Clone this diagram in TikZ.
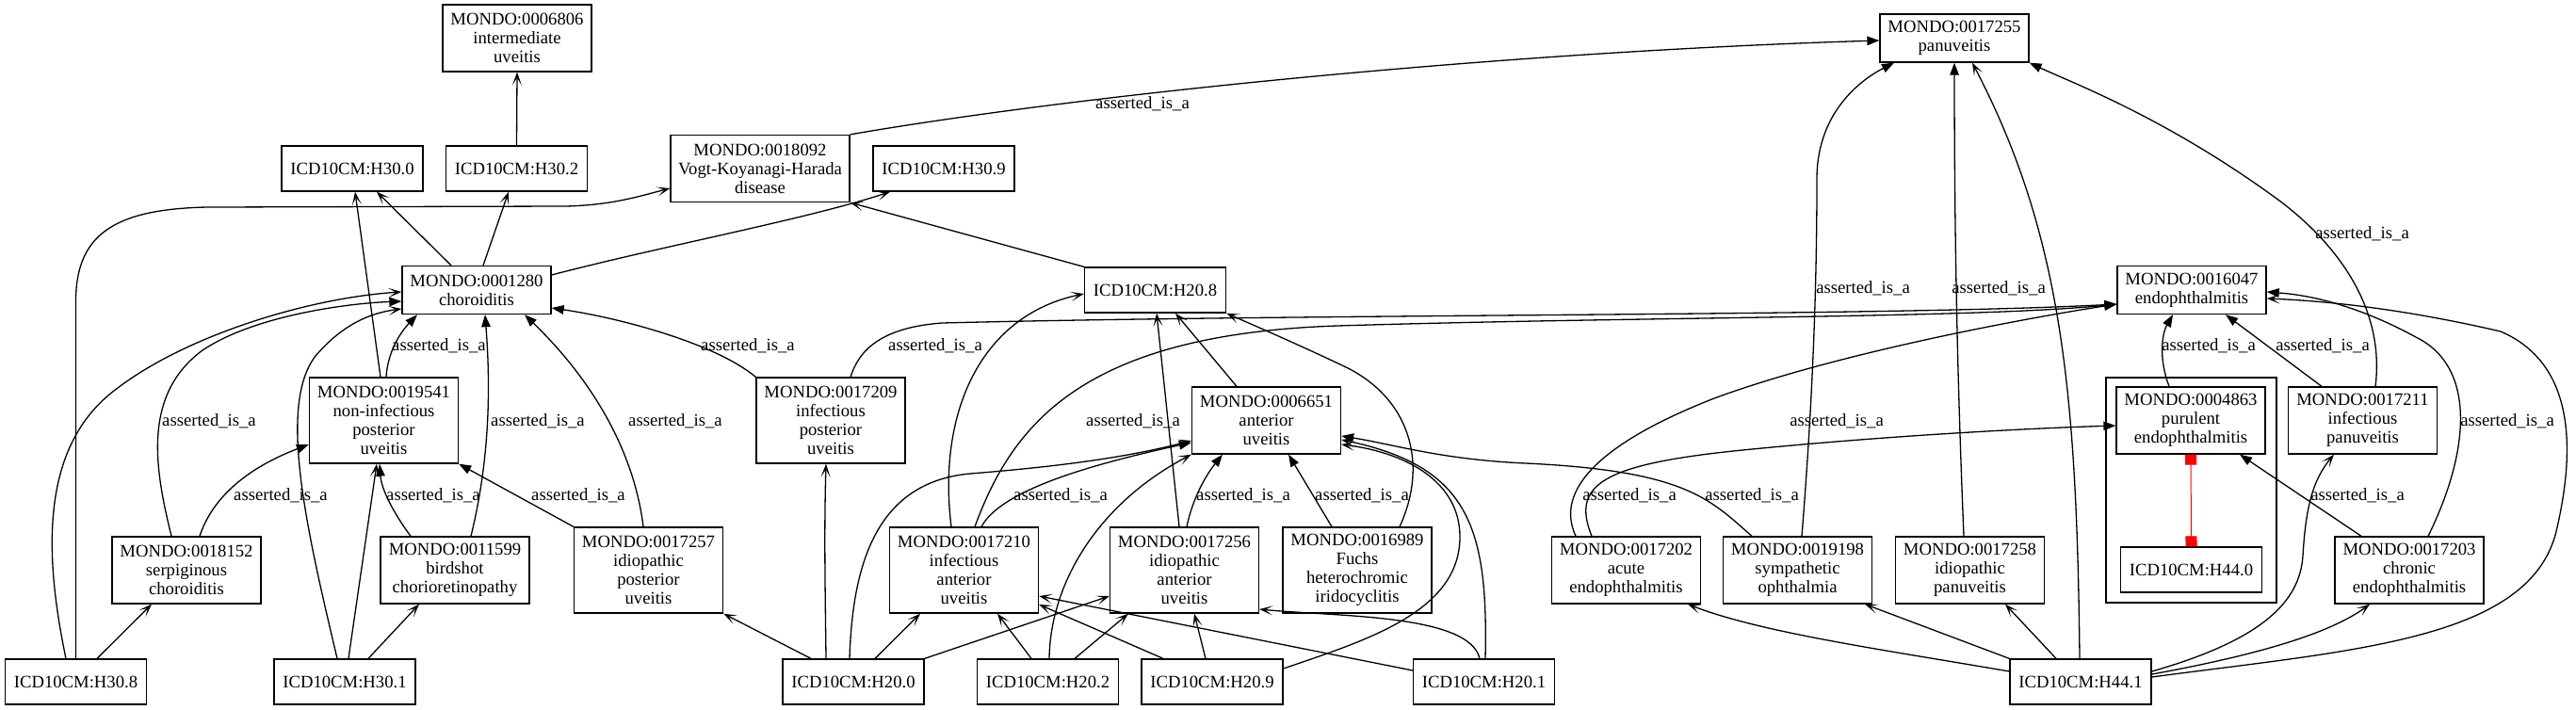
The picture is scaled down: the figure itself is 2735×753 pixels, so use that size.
\documentclass[tikz,border=0pt]{standalone}
\usepackage{fontspec}
\setmainfont{Liberation Serif}
\usetikzlibrary{arrows.meta}
\begin{document}
\begin{tikzpicture}[x=1pt,y=-1pt,
  box/.style={draw, line width=1.3pt, rectangle, align=center, inner sep=0pt, font=\fontsize{18.67}{20}\selectfont},
  mw/.style={minimum width=158pt}, iw/.style={minimum width=150pt},
  h1/.style={minimum height=48pt}, h2/.style={minimum height=51pt},
  h3/.style={minimum height=71pt}, h4/.style={minimum height=91pt},
  lbl/.style={inner sep=0pt, font=\fontsize{18.67}{20}\selectfont},
  isa/.style={line width=1.3pt, -{Triangle[length=13pt,width=9.5pt]}},
  xr/.style={line width=1.3pt, -{Stealth[length=14pt,width=10pt,inset=8pt]}}]
\useasboundingbox (0,0) rectangle (2735,753);
% cluster
\node[draw, line width=1.3pt, minimum width=181pt, minimum height=239pt, inner sep=0pt] (clu) at (2326.5,520.5) {};
% nodes
\node[box,mw,h3] (N6806) at (549,40.5) {MONDO:0006806\\intermediate\\uveitis};
\node[box,mw,h2] (N17255) at (2075,40.5) {MONDO:0017255\\panuveitis};
\node[box,iw,h1] (H300) at (374,179) {ICD10CM:H30.0};
\node[box,iw,h1] (H302) at (548.5,179) {ICD10CM:H30.2};
\node[box,h3,minimum width=190pt] (N18092) at (807,179) {MONDO:0018092\\Vogt-Koyanagi-Harada\\disease};
\node[box,iw,h1] (H309) at (1002,179) {ICD10CM:H30.9};
\node[box,mw,h2] (N1280) at (506,308) {MONDO:0001280\\choroiditis};
\node[box,iw,h1] (H208) at (1226.5,308) {ICD10CM:H20.8};
\node[box,mw,h2] (N16047) at (2327,308) {MONDO:0016047\\endophthalmitis};
\node[box,mw,h4] (N19541) at (407.5,446.5) {MONDO:0019541\\non-infectious\\posterior\\uveitis};
\node[box,mw,h4] (N17209) at (882,446.5) {MONDO:0017209\\infectious\\posterior\\uveitis};
\node[box,mw,h3] (N6651) at (1344.5,446.5) {MONDO:0006651\\anterior\\uveitis};
\node[box,mw,h3] (N4863) at (2326,446.5) {MONDO:0004863\\purulent\\endophthalmitis};
\node[box,mw,h3] (N17211) at (2508.5,446.5) {MONDO:0017211\\infectious\\panuveitis};
\node[box,mw,h3] (N18152) at (198,605.5) {MONDO:0018152\\serpiginous\\choroiditis};
\node[box,mw,h3] (N11599) at (483,605.5) {MONDO:0011599\\birdshot\\chorioretinopathy};
\node[box,mw,h4] (N17257) at (688.5,605.5) {MONDO:0017257\\idiopathic\\posterior\\uveitis};
\node[box,mw,h4] (N17210) at (1023.5,605.5) {MONDO:0017210\\infectious\\anterior\\uveitis};
\node[box,mw,h4] (N17256) at (1257.5,605.5) {MONDO:0017256\\idiopathic\\anterior\\uveitis};
\node[box,mw,h4] (N16989) at (1441,605.5) {MONDO:0016989\\Fuchs\\heterochromic\\iridocyclitis};
\node[box,mw,h3] (N17202) at (1726.5,605.5) {MONDO:0017202\\acute\\endophthalmitis};
\node[box,mw,h3] (N19198) at (1908.5,605.5) {MONDO:0019198\\sympathetic\\ophthalmia};
\node[box,mw,h3] (N17258) at (2091.5,605.5) {MONDO:0017258\\idiopathic\\panuveitis};
\node[box,iw,h1] (H440) at (2326.5,605) {ICD10CM:H44.0};
\node[box,mw,h3] (N17203) at (2558,605.5) {MONDO:0017203\\chronic\\endophthalmitis};
\node[box,iw,h1] (H308) at (80.5,724) {ICD10CM:H30.8};
\node[box,iw,h1] (H301) at (366,724) {ICD10CM:H30.1};
\node[box,iw,h1] (H200) at (906,724) {ICD10CM:H20.0};
\node[box,iw,h1] (H202) at (1112.5,724) {ICD10CM:H20.2};
\node[box,iw,h1] (H209) at (1287,724) {ICD10CM:H20.9};
\node[box,iw,h1] (H201) at (1575.5,724) {ICD10CM:H20.1};
\node[box,iw,h1] (H441) at (2209,724) {ICD10CM:H44.1};
% left group
\draw[xr] ([xshift=-10.5pt]H308.north) .. controls (45,580) and (45,470) .. (125,412) .. controls (200,355) and (330,316) .. ([yshift=-2pt]N1280.west);
\draw[xr] (H308.north) -- (80.5,320) .. controls (80.5,250) and (120,222) .. (220,220) -- (600,219) .. controls (650,218) and (680,208) .. ([yshift=-21pt]N18092.west);
\draw[xr] ([xshift=22.5pt]H308.north) -- ([xshift=-37pt]N18152.south);
\draw[isa] ([xshift=-16pt]N18152.north) .. controls (165,500) and (150,420) .. (215,372) .. controls (270,335) and (370,322) .. ([yshift=-12pt]N1280.west) node[lbl, at={(222,447)}] {asserted\_is\_a};
\draw[isa] ([xshift=14pt]N18152.north) .. controls (225,530) and (260,498) .. ([yshift=-25.5pt]N19541.west) node[lbl, at={(298,526)}] {asserted\_is\_a};
\draw[xr] ([xshift=-8pt]H301.north) .. controls (325,560) and (295,430) .. (335,378) .. controls (365,343) and (395,332) .. ([yshift=-20pt]N1280.west);
\draw[xr] ([xshift=4pt]H301.north) -- ([xshift=-7.5pt]N19541.south);
\draw[xr] ([xshift=25pt]H301.north) -- ([xshift=-38pt]N11599.south);
\draw[isa] ([xshift=2.5pt]N19541.north) .. controls (412,370) and (428,350) .. ([xshift=-63pt]N1280.south) node[lbl, at={(466,367)}] {asserted\_is\_a};
\draw[xr] ([xshift=-3.5pt]N19541.north) -- ([xshift=3pt]H300.south);
\draw[xr] ([xshift=-27pt]N1280.north) -- ([xshift=26pt]H300.south);
\draw[xr] ([xshift=7pt]N1280.north) -- ([xshift=-8.5pt]H302.south);
\draw[xr] (H302.north) -- (N6806.south);
\draw[xr] ([yshift=16pt]N1280.east) .. controls (700,262) and (860,232) .. ([xshift=-57pt]H309.south);
\draw[isa] ([xshift=-47pt]N11599.north) .. controls (418,545) and (405,520) .. ([xshift=-4.5pt]N19541.south) node[lbl, at={(460,526)}] {asserted\_is\_a};
\draw[isa] ([xshift=17pt]N11599.north) .. controls (522,480) and (520,400) .. ([xshift=9pt]N1280.south) node[lbl, at={(571,447)}] {asserted\_is\_a};
\draw[isa] (N17257.north west) -- (N19541.south east) node[lbl, at={(614,526)}] {asserted\_is\_a};
\draw[isa] ([xshift=-5.5pt]N17257.north) .. controls (672,470) and (620,395) .. ([xshift=51pt]N1280.south) node[lbl, at={(717,447)}] {asserted\_is\_a};
\draw[isa] (N17209.north west) .. controls (760,365) and (660,338) .. ([yshift=-19pt]N1280.east) node[lbl, at={(794,367)}] {asserted\_is\_a};
% middle group
\draw[xr] ([xshift=-45pt]H200.north) -- (N17257.south east);
\draw[xr] ([xshift=-29pt]H200.north) .. controls (876,620) and (875,560) .. ([xshift=-5pt]N17209.south);
\draw[xr] ([xshift=-4pt]H200.north) .. controls (905,600) and (930,512) .. (1030,503) .. controls (1130,495) and (1200,485) .. ([yshift=-21.5pt]N6651.west);
\draw[xr] ([xshift=23pt]H200.north) -- ([xshift=-46.5pt]N17210.south);
\draw[xr] (H200.north east) -- ([yshift=-27.5pt]N17256.west);
\draw[xr] ([xshift=-13.5pt]N17210.north) .. controls (995,440) and (1040,335) .. ([yshift=-4pt]H208.west);
\draw[isa] ([xshift=11.5pt]N17210.north) .. controls (1075,450) and (1150,355) .. (1420,346) .. controls (1750,336) and (2100,338) .. ([yshift=-15pt]N16047.west) node[lbl, at={(1203,447)}] {asserted\_is\_a};
\draw[isa] ([xshift=21pt]N17209.north) .. controls (912,372) and (935,348) .. (1000,343) .. controls (1400,333) and (2000,336) .. ([yshift=-15pt]N16047.west) node[lbl, at={(993,367)}] {asserted\_is\_a};
\draw[isa] ([xshift=18.5pt]N17210.north) .. controls (1062,522) and (1150,495) .. ([yshift=-23.5pt]N6651.west) node[lbl, at={(1126,526)}] {asserted\_is\_a};
\draw[xr] ([xshift=-17.5pt]H202.north) -- ([xshift=35.5pt]N17210.south);
\draw[xr] ([xshift=1.5pt]H202.north) .. controls (1115,620) and (1165,535) .. (N6651.south west);
\draw[xr] ([xshift=28.5pt]H202.north) -- ([xshift=-59.5pt]N17256.south);
\draw[xr] ([xshift=-5.5pt]N17256.north) -- ([xshift=1.5pt]H208.south);
\draw[isa] ([xshift=2.5pt]N17256.north) .. controls (1266,530) and (1280,505) .. ([xshift=-46.5pt]N6651.south) node[lbl, at={(1320,526)}] {asserted\_is\_a};
\draw[xr] ([xshift=-31.5pt]N6651.north) -- ([xshift=21.5pt]H208.south);
\draw[isa] ([xshift=-27pt]N16989.north) -- ([xshift=23.5pt]N6651.south) node[lbl, at={(1446,526)}] {asserted\_is\_a};
\draw[xr] ([xshift=45pt]N16989.north) .. controls (1518,490) and (1495,420) .. (1425,388) .. controls (1370,362) and (1330,345) .. (H208.south east);
\draw[xr] ([xshift=-52pt]H209.north) -- ([yshift=-36.5pt]N17210.east);
\draw[xr] ([xshift=-7pt]H209.north) -- ([xshift=10.5pt]N17256.south);
\draw[xr] ([yshift=14pt]H209.east) .. controls (1450,680) and (1550,650) .. (1550,570) .. controls (1550,510) and (1490,480) .. ([yshift=-25.5pt]N6651.east);
\draw[xr] ([xshift=1.5pt]H201.north) .. controls (1580,560) and (1560,495) .. ([yshift=-20.5pt]N6651.east);
\draw[xr] ([yshift=12pt]H201.west) -- ([yshift=-27.5pt]N17210.east);
\draw[xr] ([xshift=-4.5pt]H201.north) .. controls (1560,652) and (1420,655) .. ([yshift=-41.5pt]N17256.east);
\draw[isa] (N18092.north east) .. controls (1150,100) and (1600,55) .. ([yshift=-2.5pt]N17255.west) node[lbl, at={(1213,110)}] {asserted\_is\_a};
\draw[xr] (H208.north west) -- (N18092.south east);
% right group
\draw[isa] ([xshift=-48.5pt]N19198.north) .. controls (1815,530) and (1790,500) .. (1620,492) .. controls (1530,488) and (1480,472) .. ([yshift=-16.5pt]N6651.east) node[lbl, at={(1860,526)}] {asserted\_is\_a};
\draw[isa] ([xshift=-53.5pt]N17202.north) .. controls (1650,520) and (1700,470) .. (1820,423) .. controls (1950,375) and (2150,338) .. ([yshift=-15pt]N16047.west) node[lbl, at={(1950,447)}] {asserted\_is\_a};
\draw[isa] ([xshift=-36.5pt]N17202.north) .. controls (1668,515) and (1700,493) .. (1850,478) .. controls (2000,463) and (2150,455) .. ([yshift=-5.5pt]N4863.west) node[lbl, at={(1730,526)}] {asserted\_is\_a};
\draw[isa] ([xshift=4.5pt]N19198.north) .. controls (1925,420) and (1929,300) .. (1929,190) .. controls (1929,120) and (1975,85) .. ([xshift=-64pt]N17255.south) node[lbl, at={(1978,306)}] {asserted\_is\_a};
\draw[isa] ([xshift=-6.5pt]N17258.north) .. controls (2078,400) and (2075,250) .. (N17255.south) node[lbl, at={(2122,306)}] {asserted\_is\_a};
\draw[xr] ([xshift=-1pt]H441.north) .. controls (2205,420) and (2190,250) .. ([xshift=19pt]N17255.south);
\draw[isa] ([xshift=13.5pt]N17211.north) .. controls (2532,330) and (2485,262) .. (2420,213) .. controls (2300,125) and (2200,88) .. (N17255.south east) node[lbl, at={(2508,248)}] {asserted\_is\_a};
\draw[isa] ([xshift=-23pt]N4863.north) .. controls (2292,382) and (2295,355) .. ([xshift=-20pt]N16047.south) node[lbl, at={(2345,367)}] {asserted\_is\_a};
\draw[isa] ([xshift=-43.5pt]N17211.north) -- ([xshift=36pt]N16047.south) node[lbl, at={(2466,367)}] {asserted\_is\_a};
\draw[isa] ([xshift=-51pt]N17203.north) -- ([xshift=52pt]N4863.south) node[lbl, at={(2503,526)}] {asserted\_is\_a};
\draw[isa] ([xshift=20pt]N17203.north) .. controls (2622,480) and (2630,390) .. (2565,358) .. controls (2510,328) and (2460,314) .. ([yshift=-2pt]N16047.east) node[lbl, at={(2662,447)}] {asserted\_is\_a};
\draw[xr] ([yshift=5pt]H441.east) .. controls (2500,690) and (2690,680) .. (2715,560) .. controls (2740,450) and (2720,380) .. (2655,352) .. controls (2560,330) and (2480,320) .. ([yshift=-9pt]N16047.east);
\draw[xr] ([yshift=11pt]H441.east) .. controls (2400,680) and (2442,640) .. (2445,590) .. controls (2448,540) and (2455,510) .. ([xshift=-30.5pt]N17211.south);
\draw[xr] ([yshift=8pt]H441.east) .. controls (2400,695) and (2475,672) .. ([xshift=-42pt]N17203.south);
\draw[xr] ([yshift=11pt]H441.west) .. controls (2000,690) and (1870,672) .. ([xshift=65.5pt]N17202.south);
\draw[xr] (H441.north west) -- ([xshift=71.5pt]N19198.south);
\draw[xr] ([xshift=-26pt]H441.north) -- ([xshift=37.5pt]N17258.south);
\draw[red, line width=1pt, {Square[length=11pt,width=12pt]}-{Square[length=11pt,width=12pt]}] (N4863.south) -- (H440.north);
\end{tikzpicture}
\end{document}
